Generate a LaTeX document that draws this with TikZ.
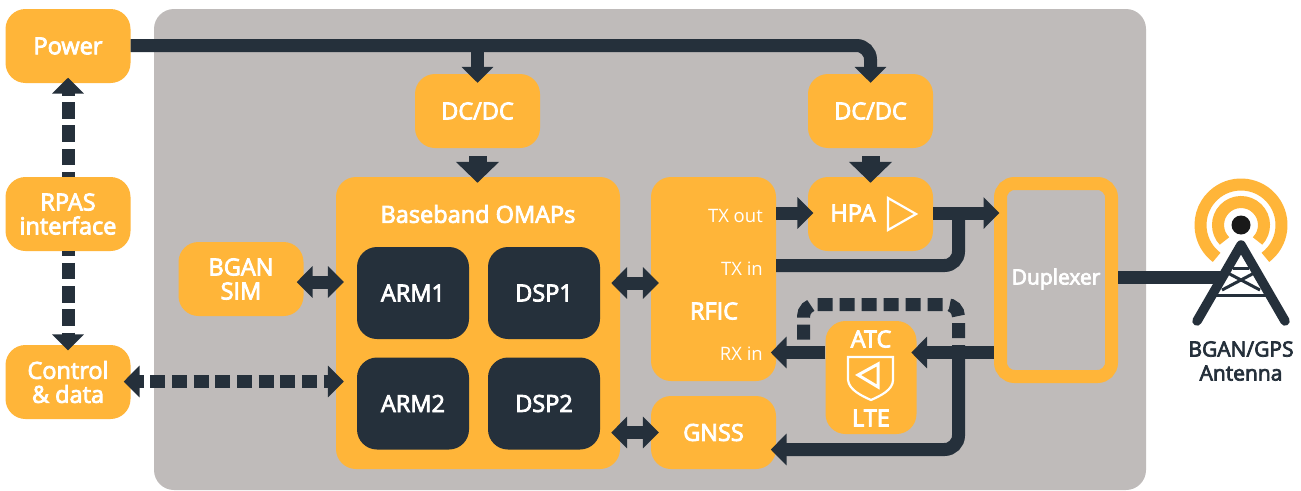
\documentclass[tikz,border=0pt]{standalone}
\usepackage{fontspec}
\setmainfont{Open Sans}
\newfontfamily\semib{Open Sans}[FakeBold=3.5]
\usetikzlibrary{arrows.meta,calc}
\definecolor{org}{HTML}{FFB539}
\definecolor{drk}{HTML}{25303B}
\definecolor{gry}{HTML}{BFBBBA}
\tikzset{
  box/.style={fill=org,rounded corners=20pt,inner sep=0pt,align=center,text=white,font=\fontsize{23.5}{24}\selectfont\semib,minimum width=125pt,minimum height=74pt},
  core/.style={fill=drk,rounded corners=20pt,inner sep=0pt,text=white,font=\fontsize{23.5}{24}\selectfont\semib,minimum width=112pt,minimum height=92pt},
  lab/.style={inner sep=0pt,align=center,text=white,font=\fontsize{23.5}{24}\selectfont\semib},
  small/.style={inner sep=0pt,text=white,font=\fontsize{18.5}{20}\selectfont,anchor=east},
  wire/.style={draw=drk,line width=13pt},
  tipend/.style={-{Triangle[length=16pt,width=31pt]},shorten >=-5.5pt},
  tiprail/.style={-{Triangle[length=16pt,width=31pt]},shorten >=-9pt},
  tipbig/.style={draw=drk,line width=18pt,-{Triangle[length=21pt,width=42pt]},shorten <=8pt,shorten >=-6pt},
  tipboth/.style={{Triangle[length=16pt,width=31pt]}-{Triangle[length=16pt,width=31pt]},shorten >=-8pt,shorten <=-7pt},
  hdash/.style={dash pattern=on 15pt off 6.67pt},
  vdash/.style={dash pattern=on 16.5pt off 6.7pt,dash phase=11.5pt},
  icon/.style={draw=white,line width=2.2pt},
  ring/.style={draw=org,line width=12pt},
  leg/.style={draw=drk,line width=9.5pt,line cap=round,line join=round},
  brace/.style={draw=drk,line width=3pt}
}
\begin{document}
\begin{tikzpicture}[x=1pt,y=1pt]
\useasboundingbox (0,0) rectangle (1301,-490);
\fill[white] (0,0) rectangle (1301,-490);
\fill[gry,rounded corners=20pt] (154,-9) rectangle (1146,-490);

% boxes
\node[box] (power) at (68,-46) {Power};
\node[box] (rpas) at (68,-214) {RPAS\\interface};
\node[box] (ctrl) at (68,-382) {Control\\\& data};
\node[box] (sim) at (241,-279) {BGAN\\SIM};
\node[box] (dc1) at (477.5,-111) {DC/DC};
\node[box] (dc2) at (870.5,-111) {DC/DC};
\node[box,minimum width=284pt,minimum height=292pt] (base) at (478,-323) {};
\node[lab] (basel) at (478,-214) {Baseband OMAPs};
\node[core] (arm1) at (413,-293) {ARM1};
\node[core] (dsp1) at (544,-293) {DSP1};
\node[core] (arm2) at (413,-403.5) {ARM2};
\node[core] (dsp2) at (544,-403.5) {DSP2};
\node[box,minimum height=204pt] (rfic) at (713.5,-279) {};
\node[lab] (rficl) at (714,-311) {RFIC};
\node[small] (txout) at (763,-216) {TX out};
\node[small] (txin) at (763,-269) {TX in};
\node[small] (rxin) at (763,-354) {RX in};
\node[box,minimum height=73pt] (gnss) at (713.5,-432.5) {GNSS};
\node[box] (hpa) at (870.5,-214) {};
\node[lab] (hpal) at (853,-213) {HPA};
\node[box,minimum width=91pt,minimum height=113pt] (atc) at (871,-377.5) {};
\node[lab] (atcl) at (871,-339) {ATC};
\node[lab] (ltel) at (871,-418) {LTE};
\node[draw=org,line width=13pt,rounded corners=14pt,inner sep=0pt,minimum width=111pt,minimum height=193pt] (dup) at (1056,-280) {};
\node[lab,font=\fontsize{21}{25}\selectfont\semib] (dupl) at (1056,-279) {Duplexer};

% icons
\draw[icon] (888,-198) -- (916,-214) -- (888,-230) -- cycle;
\draw[icon] (848,-357) -- (893,-357) -- (893,-380) .. controls (893,-390) and (880,-396) .. (871,-400) .. controls (862,-396) and (849,-390) .. (848,-380) -- cycle;
\draw[icon,line width=3pt] (858,-375) -- (878,-364) -- (878,-387) -- cycle;

% connector coordinates
\coordinate (ysim) at (0,-282);
\coordinate (yrf) at (0,-283);
\coordinate (yctl) at (0,-381.5);
\coordinate (ytx) at (0,-213);
\coordinate (yin) at (0,-265.5);
\coordinate (yrx) at (0,-352.5);
\coordinate (ygn) at (0,-449.5);
\coordinate (xj) at (958.5,0);
\coordinate (xl) at (803.5,0);
\coordinate (yloop) at (0,-304.5);
\coordinate (ypw) at (0,-45.5);
\coordinate (yant) at (0,-277);
\coordinate (apex) at (1241,-245);
\coordinate (footl) at (1197,-321);
\coordinate (footr) at (1285,-321);
\coordinate (ant) at (1224,-277);

% power rail
\draw[wire,rounded corners=14pt,tiprail] (power.east |- ypw) -- (dc2.north |- ypw) -- (dc2.north);
\draw[wire,tiprail] (dc1.north |- ypw) -- (dc1.north);
\draw[tipbig] (dc1.south) -- (dc1.south |- base.north);
\draw[tipbig] (dc2.south) -- (hpa.north);
% left dashed links
\draw[wire,vdash,tipend] (rpas.north) -- (power.south);
\draw[wire,vdash,tipend] (rpas.south) -- (ctrl.north);
\draw[wire,hdash,dash phase=10pt,tipboth] (ctrl.east |- yctl) -- (base.west |- yctl);
% double arrows
\draw[wire,tipboth] (sim.east |- ysim) -- (base.west |- ysim);
\draw[wire,tipboth,shorten <=-9pt,shorten >=-8pt] (base.east |- yrf) -- (rfic.west |- yrf);
\draw[wire,tipboth,shorten <=-9pt,shorten >=-8pt] (base.east |- gnss) -- (gnss.west);
% TX chain
\draw[wire,tipend] (rfic.east |- ytx) -- (hpa.west |- ytx);
\draw[wire,tipend] (hpa.east |- ytx) -- (dup.west |- ytx);
\draw[wire,rounded corners=14pt] (rfic.east |- yin) -- (xj |- yin) -- (xj |- ytx);
% RX chain
\draw[wire,dash pattern=on 15pt off 7pt,dash phase=7.5pt,rounded corners=12pt] (xj |- yrx) -- (xj |- yloop) -- (xl |- yloop) -- (xl |- yrx);
\draw[wire,tipend] (dup.west |- yrx) -- (atc.east |- yrx);
\draw[wire,tipend] (atc.west |- yrx) -- (rfic.east |- yrx);
\draw[wire,rounded corners=14pt,tipend] (xj |- yrx) -- (xj |- ygn) -- (gnss.east |- ygn);

% antenna
\draw[wire] (dup.east |- yant) -- (ant);
\draw[ring] (1241,-225) ++(-53:40.5pt) arc[start angle=-53,end angle=233,radius=40.5pt];
\draw[ring] (1241,-225) ++(-44:23pt) arc[start angle=-44,end angle=224,radius=23pt];
\fill[black!90] (1241,-225) circle[radius=9.5pt];
\draw[brace] (1233,-268) -- (1249,-268);
\draw[brace] (1216,-295) -- (1266,-295);
\draw[brace] (1222,-290) -- (1258,-271);
\draw[brace] (1260,-290) -- (1224,-271);
\draw[leg] (footl) -- (apex) -- (footr);
\node[inner sep=0pt,align=center,text=drk,font=\fontsize{21}{24}\selectfont\semib] (antl) at (1241,-361) {BGAN/GPS\\Antenna};
\end{tikzpicture}
\end{document}
